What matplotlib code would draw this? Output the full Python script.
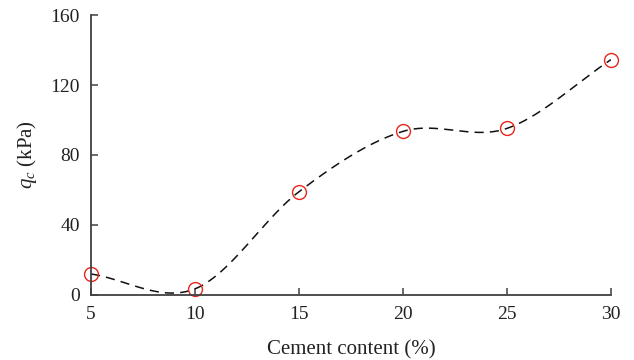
import numpy as np
import matplotlib
matplotlib.use('Agg')
import matplotlib.pyplot as plt

plt.rcParams.update({
    'font.family': 'Liberation Serif',
    'font.size': 15,
    'mathtext.fontset': 'custom',
    'mathtext.rm': 'Liberation Serif',
    'mathtext.it': 'Liberation Serif:italic',
})

# cement content (%) and cone resistance q_c (kPa)
cement = [5, 10, 15, 20, 25, 30]
qc = [12, 3.5, 59, 93.5, 95.2, 134.5]


def smooth_line(x, y, per_seg=80):
    # Catmull-Rom style hermite curve, the "smoothed line" look
    x = np.asarray(x, float)
    y = np.asarray(y, float)
    n = len(x)
    m = np.empty(n)
    m[0] = (y[1] - y[0]) / (x[1] - x[0])
    m[-1] = (y[-1] - y[-2]) / (x[-1] - x[-2])
    m[1:-1] = (y[2:] - y[:-2]) / (x[2:] - x[:-2])
    xs, ys = [], []
    for i in range(n - 1):
        h = x[i + 1] - x[i]
        t = np.linspace(0, 1, per_seg, endpoint=(i == n - 2))
        h00 = 2 * t**3 - 3 * t**2 + 1
        h10 = t**3 - 2 * t**2 + t
        h01 = -2 * t**3 + 3 * t**2
        h11 = t**3 - t**2
        xs.append(x[i] + t * h)
        ys.append(h00 * y[i] + h10 * h * m[i] + h01 * y[i + 1] + h11 * h * m[i + 1])
    return np.concatenate(xs), np.concatenate(ys)


xs, ys = smooth_line(cement, qc)

fig = plt.figure(figsize=(6.34, 3.6), dpi=100)
ax = fig.add_axes([0.1435, 0.1806, 0.8202, 0.7777])

ax.plot(xs, ys, color='#111111', linestyle=(0, (6, 4)), linewidth=1.1)
ax.plot(cement, qc, linestyle='none', marker='o', markersize=10,
        markerfacecolor='none', markeredgecolor='#e8251c', markeredgewidth=1.0,
        clip_on=False)

ax.set_xlim(5, 30)
ax.set_ylim(0, 160)
ax.set_xticks([5, 10, 15, 20, 25, 30])
ax.set_yticks([0, 40, 80, 120, 160])

for s in ['top', 'right']:
    ax.spines[s].set_visible(False)
for s in ['left', 'bottom']:
    ax.spines[s].set_color('#404040')
    ax.spines[s].set_linewidth(1.3)

ax.tick_params(direction='in', length=5, width=1.1, color='#404040',
               labelcolor='#222222', labelsize=14, pad=8)

ax.set_xlabel('Cement content (%)', color='#222222', labelpad=12, fontsize=15)
ax.set_ylabel(r'$q_c$ (kPa)', color='#222222', labelpad=8, fontsize=15)

fig.savefig('out.png', dpi=100)
